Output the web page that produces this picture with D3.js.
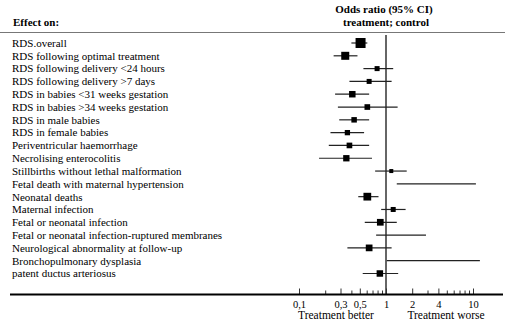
<!DOCTYPE html>
<html>
<head>
<meta charset="utf-8">
<script src="https://cdn.jsdelivr.net/npm/d3@7"></script>
<style>
  body { margin: 0; background: #fff; }
  svg { display: block; }
  text { font-family: "Liberation Serif", "Times New Roman", serif; fill: #000; }
</style>
</head>
<body>
<svg id="forest" width="505" height="326"></svg>
<script>
// outcomes, top to bottom
var outcomes = [
    "RDS.overall",
    "RDS following optimal treatment",
    "RDS following delivery <24 hours",
    "RDS following delivery >7 days",
    "RDS in babies <31 weeks gestation",
    "RDS in babies >34 weeks gestation",
    "RDS in male babies",
    "RDS in female babies",
    "Periventricular haemorrhage",
    "Necrolising enterocolitis",
    "Stillbirths without lethal malformation",
    "Fetal death with maternal hypertension",
    "Neonatal deaths",
    "Maternal infection",
    "Fetal or neonatal infection",
    "Fetal or neonatal infection-ruptured membranes",
    "Neurological abnormality at follow-up",
    "Bronchopulmonary dysplasia",
    "patent ductus arteriosus"
];

// odds ratio point estimates (null = not shown)
var oddsRatio = [0.51, 0.34, 0.79, 0.64, 0.41, 0.61, 0.43, 0.36, 0.38, 0.35,
                 1.15, null, 0.61, 1.21, 0.86, null, 0.64, null, 0.85];
var ciLower   = [0.40, 0.25, 0.55, 0.38, 0.26, 0.28, 0.29, 0.23, 0.22, 0.17,
                 0.75, 1.33, 0.48, 0.88, 0.57, 0.77, 0.36, 1.02, 0.54];
var ciUpper   = [0.61, 0.47, 1.21, 1.16, 0.64, 1.36, 0.64, 0.56, 0.64, 0.69,
                 1.73, 10.8, 0.82, 1.68, 1.33, 2.88, 1.16, 12.0, 1.38];
// relative weight of each estimate (square area)
var weight    = [100, 64, 25, 25, 42, 32, 30, 28, 32, 40,
                 16, null, 60, 25, 45, null, 45, null, 42];

var tickValues = [0.1, 0.2, 0.3, 0.4, 0.5, 0.6, 0.7, 0.8, 0.9,
                  1, 2, 3, 4, 5, 6, 7, 8, 9, 10];
var tickLabels = {0.1: "0,1", 0.3: "0,3", 0.5: "0,5", 1: "1", 2: "2", 4: "4", 10: "10"};

var svg = d3.select("#forest");

var x = d3.scaleLog().domain([0.1, 10]).range([299, 473]);
var y = d3.scalePoint().domain(outcomes).range([43, 273.5]);
var side = d3.scaleSqrt().domain([0, 100]).range([0, 10]);

var rows = outcomes.map(function (d, i) {
    return { label: d, or: oddsRatio[i], lo: ciLower[i], hi: ciUpper[i], w: weight[i] };
});

// header
svg.append("text").attr("x", 13).attr("y", 26)
    .style("font-size", "11px").style("font-weight", "bold")
    .text("Effect on:");
svg.append("text").attr("x", 384).attr("y", 13)
    .attr("text-anchor", "middle")
    .style("font-size", "11px").style("font-weight", "bold")
    .text("Odds ratio (95% CI)");
svg.append("text").attr("x", 386).attr("y", 26)
    .attr("text-anchor", "middle")
    .style("font-size", "11px").style("font-weight", "bold")
    .text("treatment; control");
svg.append("line")
    .attr("x1", 0).attr("x2", 505).attr("y1", 32.5).attr("y2", 32.5)
    .style("stroke", "#777").style("stroke-width", 1.2);

// row labels
svg.selectAll(".label")
    .data(rows)
    .enter()
    .append("text")
    .attr("class", "label")
    .attr("x", 12)
    .attr("y", d => y(d.label))
    .attr("dy", "0.35em")
    .style("font-size", "11px")
    .text(d => d.label);

// line of no effect
svg.append("line")
    .attr("x1", x(1)).attr("x2", x(1))
    .attr("y1", 35).attr("y2", 294)
    .style("stroke", "#666").style("stroke-width", 2);

// confidence intervals
svg.selectAll(".ci")
    .data(rows)
    .enter()
    .append("line")
    .attr("class", "ci")
    .attr("x1", d => x(d.lo))
    .attr("x2", d => x(d.hi))
    .attr("y1", d => y(d.label))
    .attr("y2", d => y(d.label))
    .style("stroke", "#222")
    .style("stroke-width", 1.2);

// point estimates
svg.selectAll(".pt")
    .data(rows.filter(d => d.or != null))
    .enter()
    .append("rect")
    .attr("class", "pt")
    .attr("x", d => x(d.or) - side(d.w) / 2)
    .attr("y", d => y(d.label) - side(d.w) / 2)
    .attr("width", d => side(d.w))
    .attr("height", d => side(d.w))
    .style("fill", "#000");

// x axis
var xAxis = d3.axisBottom(x)
    .tickValues(tickValues)
    .tickSize(0)
    .tickFormat(d => tickLabels[d] || "");

var axisG = svg.append("g")
    .attr("transform", "translate(0,294.5)")
    .call(xAxis)
    .call(g => g.select(".domain").remove());

axisG.selectAll(".tick text")
    .attr("y", 6)
    .style("font-family", "Liberation Serif, serif")
    .style("font-size", "10.5px")
    .style("fill", "#000");

axisG.selectAll(".tick line")
    .attr("y1", d => tickLabels[d] ? -6 : -4)
    .attr("y2", 0)
    .style("stroke", "#333")
    .style("stroke-width", 1);

svg.append("line")
    .attr("x1", 10).attr("x2", 503)
    .attr("y1", 294.5).attr("y2", 294.5)
    .style("stroke", "#000").style("stroke-width", 2.2);

svg.append("text").attr("x", 336).attr("y", 319)
    .attr("text-anchor", "middle").style("font-size", "11.5px")
    .text("Treatment better");
svg.append("text").attr("x", 446).attr("y", 319)
    .attr("text-anchor", "middle").style("font-size", "11.5px")
    .text("Treatment worse");
</script>
</body>
</html>
